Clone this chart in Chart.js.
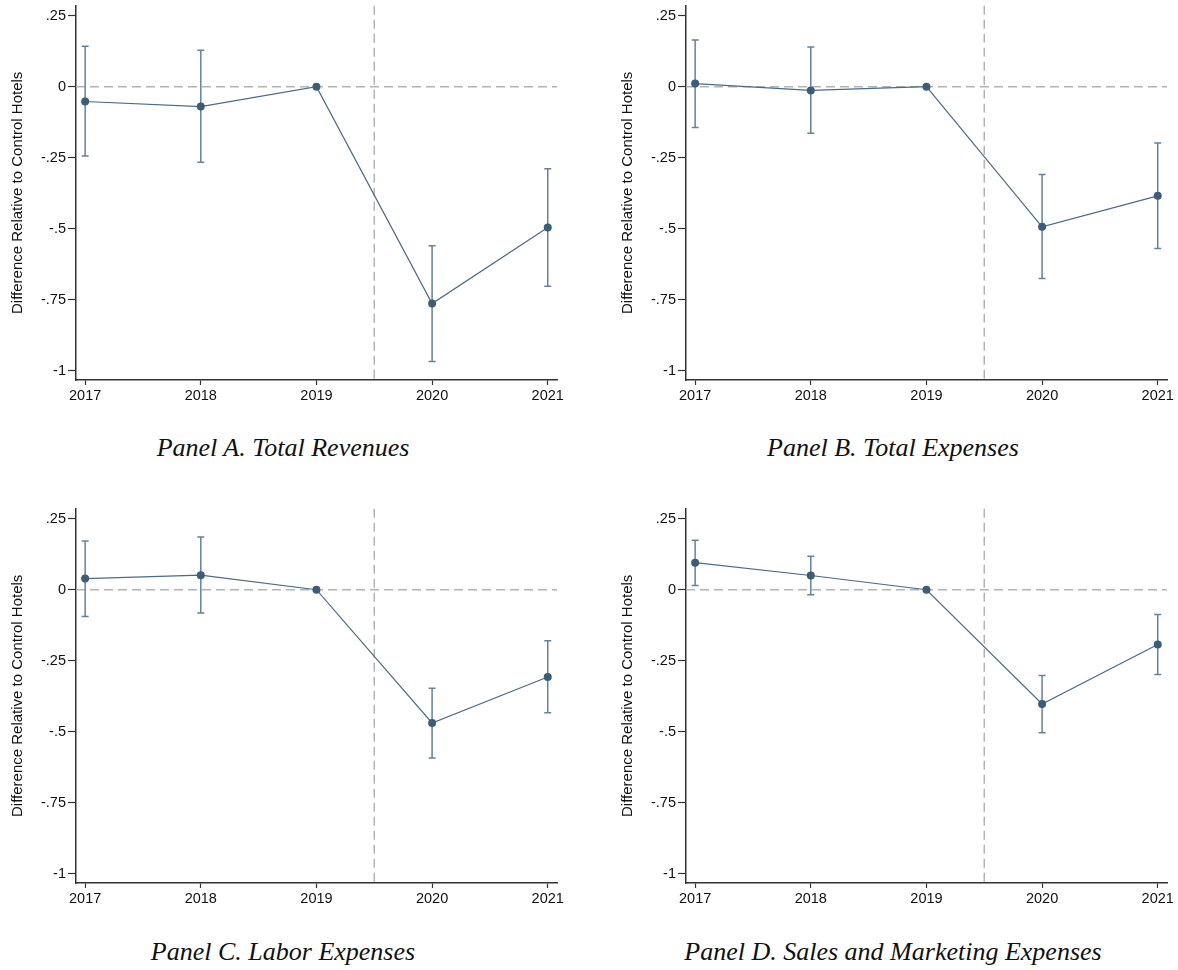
<!doctype html>
<html>
<head>
  <meta charset="utf-8">
  <title>Difference Relative to Control Hotels</title>
  <style>
    body { margin:0; background:#fff; width:1178px; height:970px; position:relative; overflow:hidden; }
    .panel { position:absolute; width:590px; height:415px; }
    .cap { position:absolute; width:566px; text-align:center; font: italic 26px 'Liberation Serif', serif; line-height:26px; color:#111; white-space:nowrap; }
  </style>
  <script src="https://cdn.jsdelivr.net/npm/chart.js"></script>
</head>
<body>
  <div class="panel" style="left:0;top:-5px"><canvas id="pA" width="590" height="415"></canvas></div>
  <div class="panel" style="left:610px;top:-5px"><canvas id="pB" width="590" height="415"></canvas></div>
  <div class="panel" style="left:0;top:498px"><canvas id="pC" width="590" height="415"></canvas></div>
  <div class="panel" style="left:610px;top:498px"><canvas id="pD" width="590" height="415"></canvas></div>

  <div class="cap" style="left:0;top:435px">Panel A. Total Revenues</div>
  <div class="cap" style="left:610px;top:435px">Panel B. Total Expenses</div>
  <div class="cap" style="left:0;top:939px">Panel C. Labor Expenses</div>
  <div class="cap" style="left:610px;top:939px">Panel D. Sales and Marketing Expenses</div>

  <script>
    const years = [2017, 2018, 2019, 2020, 2021];
    const yTicks = [0.25, 0, -0.25, -0.5, -0.75, -1];
    const yTickLabels = ['.25', '0', '-.25', '-.5', '-.75', '-1'];
    const eventYear = 2019.5;
    const yTitle = 'Difference Relative to Control Hotels';

    // Panel A - total revenues
    const revEst = [-0.052, -0.070, 0, -0.763, -0.495];
    const revLo  = [-0.244, -0.266, 0, -0.967, -0.702];
    const revHi  = [ 0.142,  0.128, 0, -0.560, -0.289];

    // Panel B - total expenses
    const expEst = [ 0.011, -0.013, 0, -0.493, -0.384];
    const expLo  = [-0.144, -0.164, 0, -0.675, -0.569];
    const expHi  = [ 0.164,  0.140, 0, -0.309, -0.198];

    // Panel C - labor expenses
    const labEst = [ 0.039,  0.051, 0, -0.469, -0.307];
    const labLo  = [-0.094, -0.082, 0, -0.592, -0.433];
    const labHi  = [ 0.171,  0.185, 0, -0.347, -0.180];

    // Panel D - sales and marketing
    const mktEst = [ 0.095,  0.050, 0, -0.402, -0.193];
    const mktLo  = [ 0.015, -0.018, 0, -0.503, -0.298];
    const mktHi  = [ 0.174,  0.118, 0, -0.302, -0.087];

    const tickFont = { family: "'Liberation Sans', Arial, sans-serif", size: 14.5 };

    function makePanel(id, est, lo, hi) {
      const refLines = {
        id: 'refLines',
        beforeDatasetsDraw(chart) {
          const { ctx, scales: { x, y }, chartArea: a } = chart;
          ctx.save();
          ctx.strokeStyle = '#b3b3b3';
          ctx.lineWidth = 1.5;
          ctx.setLineDash([9, 5]);
          ctx.beginPath();
          ctx.moveTo(a.left, y.getPixelForValue(0));
          ctx.lineTo(a.right, y.getPixelForValue(0));
          ctx.moveTo(x.getPixelForValue(eventYear), a.top);
          ctx.lineTo(x.getPixelForValue(eventYear), a.bottom);
          ctx.stroke();
          ctx.setLineDash([]);

          // confidence intervals
          ctx.strokeStyle = '#66829a';
          ctx.lineWidth = 1.5;
          years.forEach((yr, i) => {
            if (lo[i] === hi[i]) return;
            const px = x.getPixelForValue(yr);
            const y1 = y.getPixelForValue(lo[i]);
            const y2 = y.getPixelForValue(hi[i]);
            ctx.beginPath();
            ctx.moveTo(px, y1); ctx.lineTo(px, y2);
            ctx.moveTo(px - 3.5, y1); ctx.lineTo(px + 3.5, y1);
            ctx.moveTo(px - 3.5, y2); ctx.lineTo(px + 3.5, y2);
            ctx.stroke();
          });
          ctx.restore();
        }
      };

      new Chart(document.getElementById(id), {
        type: 'scatter',
        data: {
          datasets: [{
            data: years.map((yr, i) => ({ x: yr, y: est[i] })),
            showLine: true,
            borderColor: '#4a6a86',
            borderWidth: 1.2,
            pointRadius: 4,
            pointBorderWidth: 0,
            pointBackgroundColor: '#3b5d78',
            clip: false
          }]
        },
        options: {
          responsive: false,
          animation: false,
          events: [],
          layout: { padding: { left: 0, right: 33, top: 5, bottom: 0 } },
          plugins: { legend: { display: false }, tooltip: { enabled: false } },
          scales: {
            x: {
              type: 'linear', min: 2016.921, max: 2021.08,
              afterBuildTicks: s => { s.ticks = years.map(v => ({ value: v })); },
              afterFit: s => { s.height = 30; },
              ticks: { callback: v => String(v), color: '#111', font: tickFont, padding: 2, maxRotation: 0, autoSkip: false },
              grid: { drawOnChartArea: false, drawTicks: true, tickLength: 5, tickColor: '#333', tickWidth: 1.2 },
              border: { display: true, color: '#333', width: 1.5 }
            },
            y: {
              min: -1.032, max: 0.285,
              afterBuildTicks: s => { s.ticks = yTicks.map(v => ({ value: v })); },
              afterFit: s => { s.width = 76; },
              ticks: {
                callback: v => yTickLabels[yTicks.findIndex(t => Math.abs(t - v) < 1e-9)],
                color: '#111', font: tickFont, padding: 2, autoSkip: false
              },
              grid: { drawOnChartArea: false, drawTicks: true, tickLength: 8, tickColor: '#333', tickWidth: 1.2 },
              border: { display: true, color: '#333', width: 1.5 },
              title: {
                display: true, text: yTitle, color: '#111',
                font: { family: "'Liberation Sans', Arial, sans-serif", size: 15 },
                padding: { top: 9, bottom: 0 }
              }
            }
          }
        },
        plugins: [refLines]
      });
    }

    makePanel('pA', revEst, revLo, revHi);
    makePanel('pB', expEst, expLo, expHi);
    makePanel('pC', labEst, labLo, labHi);
    makePanel('pD', mktEst, mktLo, mktHi);
  </script>
</body>
</html>
